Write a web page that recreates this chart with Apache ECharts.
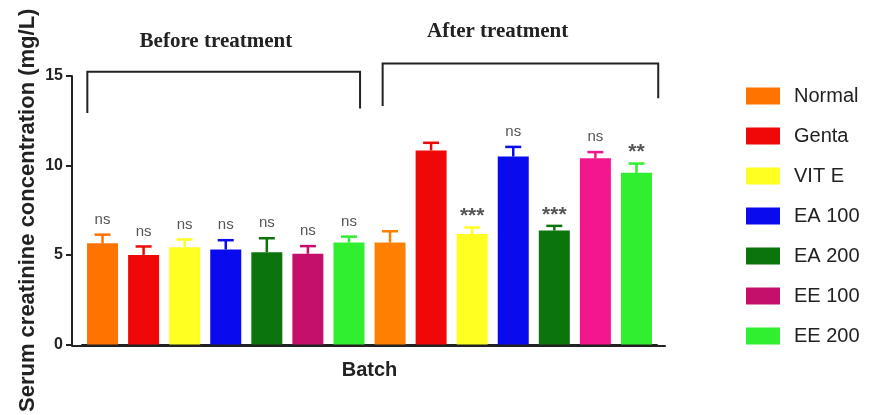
<!DOCTYPE html>
<html><head><meta charset="utf-8">
<script src="https://cdn.jsdelivr.net/npm/echarts@6/dist/echarts.min.js"></script>
<style>html,body{margin:0;padding:0;background:#fff}#c{width:869px;height:415px}</style>
</head><body><div id="c"></div>
<script>
// ---- data ----
var groups = ['Normal', 'Genta', 'VIT E', 'EA 100', 'EA 200', 'EE 100', 'EE 200'];
var phases = ['Before treatment', 'After treatment'];
var beforeMean = [5.66, 5.01, 5.44, 5.31, 5.16, 5.07, 5.70];
var beforeSD   = [0.48, 0.47, 0.43, 0.52, 0.78, 0.43, 0.33];
var afterMean  = [5.70, 10.84, 6.18, 10.50, 6.37, 10.41, 9.59];
var afterSD    = [0.63, 0.43, 0.36, 0.54, 0.26, 0.34, 0.52];
var beforeSig  = ['ns', 'ns', 'ns', 'ns', 'ns', 'ns', 'ns'];
var afterSig   = ['', '', '***', 'ns', '***', 'ns', '**'];
var yTicks = [0, 5, 10, 15];
var yAxisTitle = 'Serum creatinine concentration (mg/L)';
var xAxisTitle = 'Batch';

// ---- styles ----
var colors      = ['#FF7300', '#F00808', '#FFFF22', '#0A0AEE', '#0C740C', '#C4106A', '#30EE30'];
var afterColors = ['#FF8000', null, null, null, null, '#F4168C', null];
var FONT = 'Arial, "Liberation Sans", sans-serif';
var INK = '#222';

var xCats = [];
phases.forEach(function (p) { groups.forEach(function (g) { xCats.push(g + ' (' + p + ')'); }); });
var n = groups.length;

var barSeries = groups.map(function (g, gi) {
  var data = xCats.map(function () { return '-'; });
  data[gi] = beforeMean[gi];
  data[gi + n] = afterColors[gi] ? { value: afterMean[gi], itemStyle: { color: afterColors[gi] } } : afterMean[gi];
  return {
    name: g, type: 'bar', data: data, barWidth: 31, barGap: '-100%',
    itemStyle: { color: colors[gi] }, silent: true, animation: false, z: 2
  };
});

var errData = [], errColors = [], sigs = [];
groups.forEach(function (g, gi) {
  errData.push([gi, beforeMean[gi], beforeSD[gi]]);
  errColors.push(colors[gi]); sigs.push(beforeSig[gi]);
});
groups.forEach(function (g, gi) {
  errData.push([gi + n, afterMean[gi], afterSD[gi]]);
  errColors.push(afterColors[gi] || colors[gi]); sigs.push(afterSig[gi]);
});

var errSeries = {
  type: 'custom', name: 'err', data: errData, z: 3, silent: true, animation: false,
  encode: { x: 0, y: [1, 2] },
  renderItem: function (params, api) {
    var i = api.value(0), m = api.value(1), s = api.value(2);
    var b = api.coord([i, m]), t = api.coord([i, m + s]);
    var col = errColors[params.dataIndex];
    var ch = [
      { type: 'line', shape: { x1: b[0], y1: b[1], x2: t[0], y2: t[1] }, style: { stroke: col, lineWidth: 2.5 } },
      { type: 'line', shape: { x1: t[0] - 8, y1: t[1], x2: t[0] + 8, y2: t[1] }, style: { stroke: col, lineWidth: 2.5 } }
    ];
    var sg = sigs[params.dataIndex];
    if (sg) {
      var star = sg.charAt(0) === '*';
      ch.push({ type: 'text', x: t[0], y: t[1] - (star ? 11 : 15),
        style: { text: sg, fill: '#555', font: (star ? 'bold 21px ' : '15px ') + FONT, align: 'center', verticalAlign: 'middle' } });
    }
    return { type: 'group', children: ch };
  }
};

var chart = echarts.init(document.getElementById('c'));
chart.setOption({
  animation: false,
  backgroundColor: '#fff',
  grid: [
    { left: 82, right: 212, top: 76, bottom: 69 },
    { left: 72, right: 204, top: 76, bottom: 69 }
  ],
  legend: {
    data: groups, orient: 'vertical', left: 746, top: 86, padding: 0,
    itemWidth: 34, itemHeight: 17, itemGap: 20, icon: 'rect',
    textStyle: { fontSize: 20, fontFamily: FONT, color: INK, lineHeight: 17, padding: [0, 0, 0, 9] },
    selectedMode: false
  },
  xAxis: [
    {
      type: 'category', data: xCats, gridIndex: 0,
      axisLine: { lineStyle: { color: INK, width: 2 } },
      axisTick: { alignWithLabel: true, length: 6, lineStyle: { color: INK, width: 2 } },
      axisLabel: { show: false }, splitLine: { show: false },
      name: xAxisTitle, nameLocation: 'middle', nameGap: 16,
      nameTextStyle: { fontSize: 20, fontWeight: 'bold', fontFamily: FONT, color: INK, verticalAlign: 'top' }
    },
    {
      type: 'value', gridIndex: 1, min: 0, max: 1,
      axisLine: { show: true, onZero: false, lineStyle: { color: INK, width: 2 } },
      axisTick: { show: false }, axisLabel: { show: false }, splitLine: { show: false }
    }
  ],
  yAxis: [
    {
      type: 'value', gridIndex: 0, min: yTicks[0], max: yTicks[yTicks.length - 1], interval: yTicks[1] - yTicks[0],
      offset: 10,
      axisLine: { show: true, lineStyle: { color: INK, width: 2 } },
      axisTick: { show: true, length: 6, lineStyle: { color: INK, width: 2 } },
      axisLabel: { fontSize: 16, fontWeight: 'bold', fontFamily: FONT, color: INK, margin: 9 },
      splitLine: { show: false },
      name: yAxisTitle, nameLocation: 'middle', nameGap: 33, nameMoveOverlap: false,
      nameTextStyle: { fontSize: 22, fontWeight: 'bold', fontFamily: FONT, color: INK }
    },
    { type: 'value', gridIndex: 1, show: false, min: 0, max: 1 }
  ],
  series: barSeries.concat([errSeries])
});

// ---- bracket annotations (layout in data space) ----
function P(cat, val) { return chart.convertToPixel({ xAxisIndex: 0, yAxisIndex: 0 }, [cat, val]); }
var band = P(1, 0)[0] - P(0, 0)[0];
function X(cat, frac) { return P(cat, 0)[0] + frac * band; }
function Y(v) { return P(0, v)[1]; }
var SERIF = 'bold 21px "Liberation Serif", "Times New Roman", serif';
var brackets = [
  { x1: X(0, -0.37), x2: X(6, 0.27), yt: Y(15.24), yb1: Y(12.94), yb2: Y(13.18), tx: X(2, 0.76), ty: Y(16.95), label: phases[0] },
  { x1: X(7, -0.18), x2: X(13, 0.53), yt: Y(15.70), yb1: Y(13.33), yb2: Y(13.76), tx: X(9, 0.62), ty: Y(17.46), label: phases[1] }
];
var gfx = [];
brackets.forEach(function (b) {
  gfx.push({ type: 'polyline', silent: true,
    shape: { points: [[b.x1, b.yb1], [b.x1, b.yt], [b.x2, b.yt], [b.x2, b.yb2]] },
    style: { stroke: INK, lineWidth: 2, fill: null } });
  gfx.push({ type: 'text', silent: true, x: b.tx, y: b.ty,
    style: { text: b.label, font: SERIF, fill: INK, align: 'center', verticalAlign: 'middle' } });
});
chart.setOption({ graphic: gfx });
</script>
</body></html>
